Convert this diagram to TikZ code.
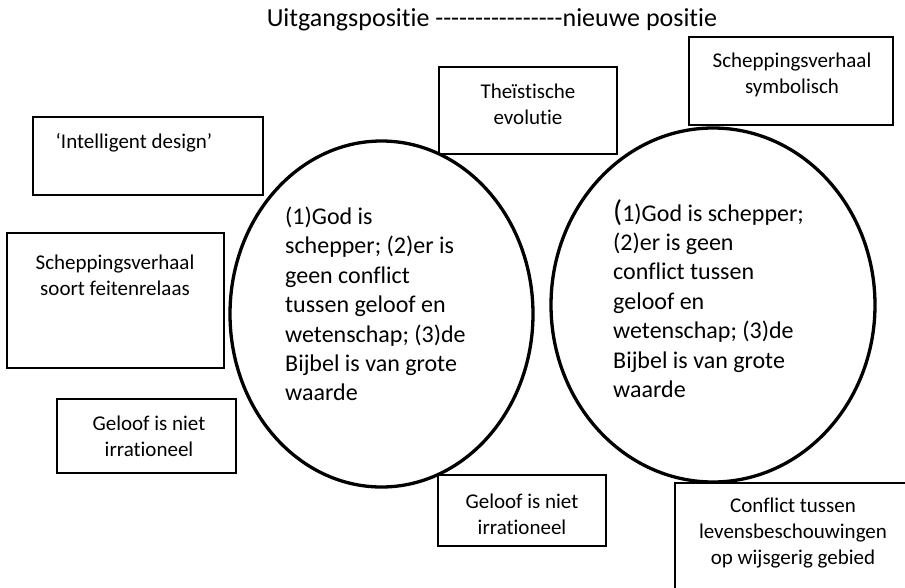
\documentclass[tikz,border=0pt]{standalone}
\usepackage{fontspec}
\setmainfont{Carlito}[Ligatures={NoCommon,TeXOff}]
\usetikzlibrary{shapes.geometric}

\begin{document}
\begin{tikzpicture}[x=1pt, y=-1pt,
        thickbox/.style={draw, rectangle, line width=2.5pt, inner sep=0pt},
        thinbox/.style={draw, rectangle, line width=1.2pt, inner sep=0pt},
        bubble/.style={draw, ellipse, line width=3.3pt, inner sep=0pt},
        boxtext/.style={inner sep=0pt, align=center, font=\fontsize{21}{25.6}\selectfont},
        bubbletext/.style={inner sep=0pt, align=left, anchor=west, font=\fontsize{24}{29.4}\selectfont}
      ]
    \useasboundingbox (0,0) rectangle (905,587);

    \node[inner sep=0pt, font=\fontsize{26}{30}\selectfont] (title) at (492,20)
      {Uitgangspositie ----------------nieuwe positie};

    % de twee posities
    \node[bubble, minimum width=303pt, minimum height=346pt] (oud) at (381.5,314) {};
    \node[bubbletext] (oudtxt) at (285,304)
      {(1)God is\\schepper; (2)er is\\geen conflict\\tussen geloof en\\wetenschap; (3)de\\Bijbel is van grote\\waarde};
    \node[bubble, minimum width=324pt, minimum height=354pt] (nieuw) at (713,305) {};
    \node[bubbletext] (nieuwtxt) at (613,298.5)
      {{\fontsize{30}{30}\selectfont(}1)God is schepper;\\(2)er is geen\\conflict tussen\\geloof en\\wetenschap; (3)de\\Bijbel is van grote\\waarde};

    % kaders links
    \node[thickbox, minimum width=230pt, minimum height=78pt] (design) at (148,156) {};
    \node[boxtext] (designtxt) at (134,143) {‘Intelligent design’};
    \node[thickbox, minimum width=217pt, minimum height=135pt] (feiten) at (115.5,300.5) {};
    \node[boxtext] (feitentxt) at (115,275) {Scheppingsverhaal\\soort feitenrelaas};
    \node[thickbox, minimum width=179pt, minimum height=74pt] (geloofa) at (146.5,436) {};
    \node[boxtext] (geloofatxt) at (149,436.5) {Geloof is niet\\irrationeel};

    % kaders rechts
    \node[thinbox, minimum width=178pt, minimum height=87pt] (theo) at (528,110.5) {};
    \node[boxtext] (theotxt) at (528,104) {Theïstische\\evolutie};
    \node[thinbox, minimum width=204pt, minimum height=88pt] (symb) at (791,81) {};
    \node[boxtext] (symbtxt) at (792,75) {Scheppingsverhaal\\symbolisch};
    \node[thickbox, minimum width=168pt, minimum height=71pt] (geloofb) at (522,510.5) {};
    \node[boxtext] (geloofbtxt) at (522,514) {Geloof is niet\\irrationeel};
    \node[thinbox, minimum width=231pt, minimum height=117pt] (confl) at (790.5,541.5) {};
    \node[boxtext] (confltxt) at (793,533) {Conflict tussen\\levensbeschouwingen\\op wijsgerig gebied};

\end{tikzpicture}
\end{document}
